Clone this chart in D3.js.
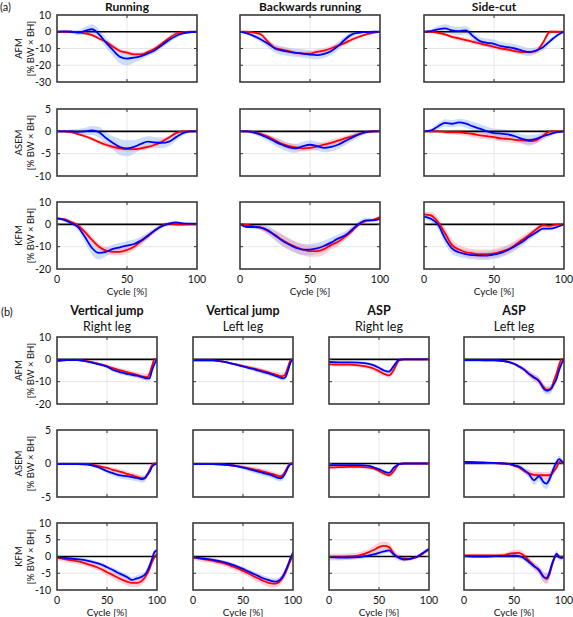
<!DOCTYPE html>
<html><head><meta charset="utf-8">
<script src="https://cdn.jsdelivr.net/npm/d3@7"></script>
<style>body{margin:0;background:#fff}svg{display:block}text{font-family:Lato,"Open Sans",sans-serif;fill:#111}</style>
</head><body><svg id="c" width="573" height="617"></svg>
<script>
// ---------- sample positions (cycle %) ----------
const xA=[0,5,10,15,20,25,30,35,40,45,50,55,60,65,70,75,80,85,90,95,100];
const xB=[0,10,20,30,40,45,50,55,60,65,70,75,80,82.5,85,87.5,90,92.5,95,97.5,100];
const xTicks=[0,50,100];
// ---------- y ticks ----------
const ticksAFM_a=[10,0,-10,-20,-30], ticksASEM_a=[5,0,-5,-10], ticksKFM_a=[10,0,-10,-20];
const ticksAFM_b=[10,0,-10,-20], ticksASEM_b=[5,0,-5], ticksKFM_b=[10,5,0,-5,-10];
// ---------- titles ----------
const titlesA=["Running","Backwards running","Side-cut"];
const titlesB=[["Vertical jump","Right leg"],["Vertical jump","Left leg"],["ASP","Right leg"],["ASP","Left leg"]];
const rowLabels=["AFM","ASEM","KFM"];

// ---------- (a) Running ----------
const runAFM_red=[0,0,0,-0.3,-1,-2,-4,-6,-9,-11.5,-12.5,-13.5,-13.5,-12,-10,-7,-3.8,-1.2,-0.2,0,0];
const runAFM_redSd=[0.3,0.3,0.4,0.5,0.7,0.8,1,1,1.2,1.2,1.2,1.2,1.2,1.2,1.2,1.2,1.2,1,0.6,0.3,0.2];
const runAFM_blue=[0,0.2,0,-0.5,0.5,1.5,-1.5,-6.5,-11,-15,-16,-15.5,-14.5,-13,-11,-8,-5,-2.5,-1,-0.3,0];
const runAFM_blueSd=[0.3,0.5,1,1.5,2.5,3,3,3,3.5,4,4,3,2,1.5,1.5,1.5,1.5,1.2,0.8,0.5,0.3];
const runASEM_red=[0,0,-0.2,-0.6,-1.1,-1.7,-2.4,-3,-3.5,-3.8,-4,-4,-3.8,-3.5,-3,-2.3,-1.4,-0.4,0,0,0];
const runASEM_redSd=[0.1,0.1,0.2,0.3,0.4,0.4,0.5,0.5,0.5,0.5,0.5,0.5,0.5,0.5,0.5,0.5,0.4,0.3,0.2,0.1,0.1];
const runASEM_blue=[0,0,0,-0.1,0,0.2,-0.2,-1.5,-2.6,-3.5,-3.8,-3.5,-2.8,-2.3,-2.5,-2.6,-2.3,-1.3,-0.4,0,0];
const runASEM_blueSd=[0.1,0.2,0.4,0.6,0.8,1,1.2,1.3,1.5,1.8,1.8,1.5,1.3,1.2,1.2,1.2,1,0.8,0.5,0.3,0.1];
const runKFM_red=[2.5,2.3,1,-0.5,-3.5,-7,-10,-11.8,-12.3,-12.3,-11.5,-10,-7.6,-5.3,-2.7,-0.5,0.3,0,-0.1,0,0];
const runKFM_redSd=[0.5,0.6,0.8,1,1.5,1.5,1.5,1.5,1.5,1.5,1.5,1.5,1.5,1.2,1,0.8,0.6,0.5,0.4,0.3,0.3];
const runKFM_blue=[2.8,2,0.6,-1.2,-5.7,-10.6,-12.8,-12.3,-11,-10.3,-9.5,-8.8,-7.3,-5,-2.7,-0.8,0.3,0.9,0.4,0.3,0.3];
const runKFM_blueSd=[0.5,0.7,1,1.5,2.5,3,3,2,2,2,2,2,1.8,1.5,1.2,1,0.8,0.6,0.5,0.4,0.3];
// ---------- (a) Backwards running ----------
const brAFM_red=[0,0,-0.5,-1.6,-6,-9.6,-10.6,-11.6,-12.6,-13,-13,-12,-11.2,-10,-8.2,-6.6,-4.6,-3,-1.6,-0.6,0];
const brAFM_redSd=[0.2,0.4,0.8,1.2,1.5,1.5,1.5,1.5,1.5,1.5,1.5,1.5,1.5,1.5,1.5,1.5,1.2,1,0.7,0.4,0.2];
const brAFM_blue=[0,-1,-2.6,-4.6,-7.2,-10,-11.2,-12,-12.6,-13,-13.6,-14,-13.2,-11.6,-8.6,-4.6,-1.6,-0.6,-0.2,0,0];
const brAFM_blueSd=[0.3,0.8,1.2,1.8,2.2,2.5,2.5,2.5,2.5,2.5,2.5,2.5,2.5,2.5,2.5,2,1.5,1,0.6,0.4,0.3];
const brASEM_red=[0,0,-0.2,-0.6,-1.2,-2,-2.8,-3.3,-3.6,-3.8,-3.7,-3.4,-3,-2.6,-2.1,-1.6,-1.1,-0.6,-0.2,0,0];
const brASEM_redSd=[0.1,0.2,0.3,0.4,0.5,0.6,0.7,0.7,0.7,0.7,0.7,0.7,0.7,0.7,0.6,0.6,0.5,0.4,0.3,0.2,0.1];
const brASEM_blue=[0,0,-0.3,-0.8,-1.5,-2.3,-3,-3.6,-3.8,-3.3,-3,-3.3,-3.7,-3.5,-3,-2.2,-1.4,-0.7,-0.2,0,0];
const brASEM_blueSd=[0.1,0.2,0.4,0.6,0.8,0.9,1,1,1,1,1,1,1,1,1,0.9,0.8,0.6,0.4,0.2,0.1];
const brKFM_red=[0,-0.3,-0.9,-1.5,-3,-4.7,-6.9,-8.7,-10.2,-11.3,-12,-12,-11.1,-9.3,-7.8,-5.6,-3,0,1.5,2,3.3];
const brKFM_redSd=[0.3,0.5,0.8,1,1.5,2,2.5,2.5,2.5,2.5,2.5,2.5,2.5,2,2,1.5,1.2,1,0.8,0.6,0.5];
const brKFM_blue=[0,-1.2,-1.2,-1.5,-2.7,-5,-7.2,-9,-10.5,-11.3,-11.3,-10.8,-9.7,-8.2,-6.4,-5,-2.4,0.3,1.8,1.8,2.5];
const brKFM_blueSd=[0.4,0.6,0.8,1.2,1.8,2.2,2.5,2.5,2.5,2.5,2.5,2.5,2.5,2.2,2,1.8,1.5,1.2,1,0.8,0.6];
// ---------- (a) Side-cut ----------
const scAFM_red=[0,0,-0.6,-1.6,-3,-4,-5,-6,-7,-8,-9,-10,-10.6,-11.6,-12.2,-12.2,-11.6,-6.6,0,0,0];
const scAFM_redSd=[0.3,0.5,0.8,1,1.2,1.3,1.3,1.3,1.3,1.3,1.3,1.3,1.3,1.3,1.3,1.3,1.3,1.5,1,0.5,0.3];
const scAFM_blue=[0,0.4,1.4,2,0.8,0.4,0.8,-2.6,-5.6,-6.6,-7.2,-8.6,-9.2,-10,-11.2,-12.2,-11.2,-9.2,-5.6,-2.2,0];
const scAFM_blueSd=[0.3,1,2,2.5,2.5,2.5,2.5,2.5,2.5,2.5,2.5,2.5,2.5,2.5,2.5,2.5,2,2,1.5,1,0.5];
const scASEM_red=[0,0,0,-0.15,-0.2,-0.2,-0.4,-0.6,-0.9,-1.1,-1.3,-1.6,-1.7,-1.9,-2,-2.2,-2,-1,0,0,0];
const scASEM_redSd=[0.1,0.2,0.3,0.4,0.5,0.6,0.6,0.7,0.7,0.7,0.7,0.7,0.7,0.7,0.7,0.7,0.7,0.6,0.3,0.1,0.1];
const scASEM_blue=[0,0.2,1.1,1.9,1.7,2,1.7,1.1,0.6,0,-0.4,-0.5,-0.7,-1.1,-1.7,-2,-1.7,-1.1,-0.6,-0.2,0];
const scASEM_blueSd=[0.1,0.4,0.7,0.8,0.8,0.8,0.9,1,1,1,1,1,1,1,1,1.2,1,0.8,0.5,0.3,0.1];
const scKFM_red=[4.5,4,1,-4,-9.3,-11.3,-12.5,-13,-13.3,-13.3,-13,-12.2,-11.2,-9.3,-7,-4.8,-2.3,-0.4,-0.7,-0.1,0];
const scKFM_redSd=[1,1.5,2,2.5,2.5,2,2,2,2,2,2,2,2,2,1.8,1.5,1.2,1,0.8,0.5,0.3];
const scKFM_blue=[3.5,2.5,-0.1,-6.3,-10.8,-12.5,-13.3,-13.8,-14,-14,-13.5,-12.8,-11.5,-9.8,-7.9,-5.6,-3.7,-1.9,-1.9,-1.2,0];
const scKFM_blueSd=[1,1.5,2,2.5,2.5,2,2,2,2,2,2,2,2,2,1.8,1.5,1.2,1,0.8,0.5,0.3];

// ---------- (b) Vertical jump, right leg ----------
const vjrAFM_red=[-0.7,-0.3,-0.3,-0.8,-1.8,-2.4,-3,-3.8,-4.5,-5.1,-5.7,-6.3,-7,-7.3,-7.6,-7.8,-8,-6.5,-3,0,0];
const vjrAFM_redSd=[0.3,0.3,0.3,0.4,0.5,0.6,0.7,0.8,0.9,1,1,1.1,1.2,1.3,1.4,1.5,1.5,1.5,1.2,0.5,0.3];
const vjrAFM_blue=[-0.7,-0.3,-0.3,-1,-2,-2.6,-3.3,-4.5,-5.3,-6,-6.5,-7,-7.3,-7.6,-8,-8.3,-8.5,-8.5,-5,-2,0];
const vjrAFM_blueSd=[0.3,0.3,0.3,0.4,0.5,0.6,0.7,0.8,0.9,1,1,1,1,1,1,1,1,1,1,0.8,0.5];
const vjrASEM_red=[-0.1,-0.1,-0.1,-0.1,-0.3,-0.5,-0.65,-0.9,-1.1,-1.3,-1.55,-1.75,-2,-2.1,-2.2,-2.15,-1.75,-1,-0.25,0,0];
const vjrASEM_redSd=[0.1,0.1,0.1,0.1,0.15,0.2,0.25,0.3,0.35,0.4,0.4,0.4,0.4,0.4,0.4,0.4,0.4,0.4,0.3,0.2,0.1];
const vjrASEM_blue=[-0.1,-0.1,-0.1,-0.15,-0.5,-0.8,-1.15,-1.4,-1.65,-1.8,-1.9,-2.05,-2.15,-2.25,-2.35,-2.25,-1.75,-1.25,-0.5,-0.15,0];
const vjrASEM_blueSd=[0.1,0.1,0.1,0.1,0.15,0.2,0.3,0.4,0.45,0.5,0.5,0.5,0.5,0.5,0.5,0.5,0.5,0.4,0.3,0.2,0.1];
const vjrKFM_red=[-0.4,-0.9,-1.4,-2.2,-3.2,-3.9,-4.7,-5.4,-6.2,-6.9,-7.5,-7.9,-7.9,-7.7,-7.2,-6.4,-5.2,-3.7,-1.7,-0.2,0.8];
const vjrKFM_redSd=[0.8,0.8,0.8,0.8,0.9,0.9,1,1,1.1,1.1,1.2,1.2,1.2,1.2,1.2,1.2,1.2,1.1,1,0.8,0.6];
const vjrKFM_blue=[-0.2,-0.5,-0.8,-1.2,-2,-2.5,-3.2,-3.9,-4.7,-5.4,-6.1,-7,-6.5,-6.3,-6,-5.5,-4.5,-2.8,-0.7,1.3,1.8];
const vjrKFM_blueSd=[0.5,0.5,0.5,0.5,0.6,0.6,0.7,0.7,0.8,0.8,0.9,0.9,0.9,0.9,0.9,0.9,0.9,0.9,0.9,0.8,0.6];
// ---------- (b) Vertical jump, left leg ----------
const vjlAFM_red=[-0.5,-0.4,-0.5,-1,-2,-2.5,-3,-3.5,-4,-4.6,-5.2,-5.8,-6.5,-6.8,-7.2,-7.5,-7.5,-6.5,-3.5,-0.5,0];
const vjlAFM_redSd=[0.3,0.3,0.3,0.4,0.5,0.6,0.7,0.8,0.9,1,1,1.1,1.2,1.3,1.4,1.5,1.5,1.5,1.2,0.5,0.3];
const vjlAFM_blue=[-0.5,-0.4,-0.5,-1,-2,-2.6,-3.2,-3.8,-4.3,-5,-5.6,-6.2,-7,-7.4,-7.8,-8.2,-8.5,-8,-5,-1.5,0];
const vjlAFM_blueSd=[0.3,0.3,0.3,0.4,0.5,0.6,0.7,0.8,0.9,1,1,1,1,1,1,1,1,1,1,0.8,0.5];
const vjlASEM_red=[-0.1,-0.1,-0.1,-0.15,-0.3,-0.4,-0.55,-0.7,-0.85,-1,-1.2,-1.4,-1.6,-1.75,-1.85,-1.9,-1.7,-1.1,-0.4,0,0];
const vjlASEM_redSd=[0.1,0.1,0.1,0.1,0.15,0.2,0.25,0.3,0.35,0.4,0.4,0.4,0.4,0.4,0.4,0.4,0.4,0.4,0.3,0.2,0.1];
const vjlASEM_blue=[-0.1,-0.1,-0.1,-0.15,-0.3,-0.45,-0.6,-0.8,-1,-1.2,-1.4,-1.6,-1.85,-2,-2.15,-2.2,-2,-1.4,-0.6,-0.1,0];
const vjlASEM_blueSd=[0.1,0.1,0.1,0.1,0.15,0.2,0.3,0.35,0.4,0.4,0.45,0.45,0.45,0.45,0.45,0.45,0.45,0.4,0.3,0.2,0.1];
const vjlKFM_red=[-0.3,-0.8,-1.3,-2,-3,-3.6,-4.3,-5,-5.8,-6.5,-7.2,-7.8,-8.1,-8.1,-7.8,-7.2,-6.2,-4.8,-3,-1.2,0.2];
const vjlKFM_redSd=[0.8,0.8,0.8,0.8,0.9,0.9,1,1,1.1,1.1,1.2,1.2,1.2,1.2,1.2,1.2,1.2,1.1,1,0.8,0.6];
const vjlKFM_blue=[-0.2,-0.6,-1,-1.6,-2.5,-3.1,-3.7,-4.4,-5.1,-5.8,-6.5,-7,-7.4,-7.5,-7.3,-6.8,-5.8,-4.3,-2.5,-0.5,1.2];
const vjlKFM_blueSd=[0.5,0.5,0.5,0.5,0.6,0.6,0.7,0.7,0.8,0.8,0.9,0.9,0.9,0.9,0.9,0.9,0.9,0.9,0.9,0.8,0.6];
// ---------- (b) ASP, right leg ----------
const asrAFM_red=[-2.3,-2.4,-2.4,-2.7,-3.5,-4.2,-5.3,-6.5,-7.2,-4.5,-0.5,0,0,0,0,0,0,0,0,0,0];
const asrAFM_redSd=[0.8,0.8,0.8,0.8,0.9,1,1,1,1,1.5,1,0.3,0.1,0.1,0.1,0.1,0.1,0.1,0.1,0.1,0.1];
const asrAFM_blue=[-1.2,-1.4,-1.4,-1.5,-2,-2.7,-3.8,-5,-5.5,-2.8,-0.2,0,0,0,0,0,0,0,0,0,0];
const asrAFM_blueSd=[0.5,0.5,0.5,0.5,0.6,0.7,0.8,0.8,0.8,0.8,0.5,0.2,0.1,0.1,0.1,0.1,0.1,0.1,0.1,0.1,0.1];
const asrASEM_red=[-0.6,-0.55,-0.5,-0.5,-0.6,-0.75,-1.1,-1.5,-1.75,-1.1,-0.1,0,0,0,0,0,0,0,0,0,0];
const asrASEM_redSd=[0.2,0.2,0.2,0.2,0.2,0.25,0.3,0.3,0.3,0.35,0.2,0.1,0.05,0.05,0.05,0.05,0.05,0.05,0.05,0.05,0.05];
const asrASEM_blue=[-0.25,-0.25,-0.25,-0.25,-0.35,-0.6,-0.85,-1.2,-1.4,-0.6,-0.1,0,0,0,0,0,0,0,0,0,0];
const asrASEM_blueSd=[0.15,0.15,0.15,0.15,0.15,0.2,0.25,0.25,0.25,0.25,0.15,0.05,0.05,0.05,0.05,0.05,0.05,0.05,0.05,0.05,0.05];
const asrKFM_red=[-0.2,-0.2,0,0.3,1.3,2,2.8,3.2,2.8,0.8,-0.3,-0.6,-0.7,-0.6,-0.4,-0.2,0.2,0.6,1.1,1.6,2.1];
const asrKFM_redSd=[1,1,1,1,1,1.2,1.3,1.3,1.3,1.2,1,0.8,0.6,0.5,0.5,0.5,0.5,0.5,0.5,0.5,0.5];
const asrKFM_blue=[-0.2,-0.3,-0.3,-0.2,0.3,0.6,1.1,1.5,1.8,0.6,-0.4,-0.9,-0.8,-0.55,-0.3,-0.2,0.3,0.8,1.3,1.8,2.3];
const asrKFM_blueSd=[0.6,0.6,0.6,0.6,0.6,0.6,0.7,0.7,0.7,0.7,0.6,0.5,0.5,0.5,0.5,0.5,0.5,0.5,0.6,0.6,0.6];
// ---------- (b) ASP, left leg ----------
const aslAFM_red=[-0.5,-0.5,-0.5,-0.5,-0.8,-1.2,-2,-3.2,-4.5,-6.5,-8.3,-9.5,-12.6,-13.6,-13.5,-12.6,-9.5,-6.5,-2.7,0,0];
const aslAFM_redSd=[0.3,0.3,0.3,0.3,0.4,0.5,0.6,0.8,1,1.2,1.5,1.5,1.5,1.5,1.5,1.5,1.5,1.5,1.2,0.8,0.4];
const aslAFM_blue=[-0.3,-0.3,-0.4,-0.4,-0.8,-1.2,-2,-3.2,-4.6,-6.5,-8,-9.8,-13.3,-14,-13.8,-13,-11,-8.8,-5,-2,0];
const aslAFM_blueSd=[0.3,0.3,0.3,0.3,0.4,0.5,0.6,0.8,1,1.3,1.6,1.8,1.8,1.8,1.8,1.8,1.6,1.5,1.3,1,0.5];
const aslASEM_red=[0.15,0.15,0.1,0.05,0,-0.1,-0.35,-0.6,-1.1,-1.45,-1.7,-1.75,-1.75,-1.75,-1.75,-1.6,-1.1,-0.6,0.15,0.3,0];
const aslASEM_redSd=[0.1,0.1,0.1,0.1,0.1,0.15,0.2,0.3,0.4,0.5,0.5,0.5,0.5,0.5,0.5,0.5,0.5,0.4,0.3,0.2,0.1];
const aslASEM_blue=[0.25,0.2,0.15,0.1,0,-0.05,-0.25,-0.45,-0.95,-1.6,-2.5,-1.9,-2.85,-3,-2.5,-1.6,-0.6,0.15,0.65,0.4,0];
const aslASEM_blueSd=[0.1,0.1,0.1,0.1,0.1,0.15,0.2,0.3,0.4,0.6,0.7,0.7,0.8,0.8,0.8,0.8,0.6,0.5,0.5,0.4,0.2];
const aslKFM_red=[0.3,0.3,0.3,0.3,0.4,0.8,1,1.1,0.3,-1.2,-2.7,-4.2,-6.2,-6.7,-5.7,-3.2,-0.7,0.5,0.1,-0.4,0];
const aslKFM_redSd=[0.5,0.5,0.5,0.5,0.6,0.8,1,1,1,1,1,1.2,1.5,1.5,1.5,1.3,1,0.8,0.8,0.6,0.4];
const aslKFM_blue=[0.1,0,0,0.1,0.2,0.2,0.3,0.1,-0.5,-1.7,-2.9,-4,-6.2,-6.4,-5.2,-2.7,-0.7,0.8,-0.2,-0.4,0];
const aslKFM_blueSd=[0.4,0.4,0.4,0.4,0.5,0.6,0.7,0.8,0.8,0.9,1,1.2,1.5,1.5,1.5,1.3,1,1,1,0.8,0.4];

// ---------- panel tables built from the arrays ----------
const panelsA=[
 [[runAFM_red,runAFM_redSd,runAFM_blue,runAFM_blueSd],[brAFM_red,brAFM_redSd,brAFM_blue,brAFM_blueSd],[scAFM_red,scAFM_redSd,scAFM_blue,scAFM_blueSd]],
 [[runASEM_red,runASEM_redSd,runASEM_blue,runASEM_blueSd],[brASEM_red,brASEM_redSd,brASEM_blue,brASEM_blueSd],[scASEM_red,scASEM_redSd,scASEM_blue,scASEM_blueSd]],
 [[runKFM_red,runKFM_redSd,runKFM_blue,runKFM_blueSd],[brKFM_red,brKFM_redSd,brKFM_blue,brKFM_blueSd],[scKFM_red,scKFM_redSd,scKFM_blue,scKFM_blueSd]]
];
const panelsB=[
 [[vjrAFM_red,vjrAFM_redSd,vjrAFM_blue,vjrAFM_blueSd],[vjlAFM_red,vjlAFM_redSd,vjlAFM_blue,vjlAFM_blueSd],[asrAFM_red,asrAFM_redSd,asrAFM_blue,asrAFM_blueSd],[aslAFM_red,aslAFM_redSd,aslAFM_blue,aslAFM_blueSd]],
 [[vjrASEM_red,vjrASEM_redSd,vjrASEM_blue,vjrASEM_blueSd],[vjlASEM_red,vjlASEM_redSd,vjlASEM_blue,vjlASEM_blueSd],[asrASEM_red,asrASEM_redSd,asrASEM_blue,asrASEM_blueSd],[aslASEM_red,aslASEM_redSd,aslASEM_blue,aslASEM_blueSd]],
 [[vjrKFM_red,vjrKFM_redSd,vjrKFM_blue,vjrKFM_blueSd],[vjlKFM_red,vjlKFM_redSd,vjlKFM_blue,vjlKFM_blueSd],[asrKFM_red,asrKFM_redSd,asrKFM_blue,asrKFM_blueSd],[aslKFM_red,aslKFM_redSd,aslKFM_blue,aslKFM_blueSd]]
];
const ticksA=[ticksAFM_a,ticksASEM_a,ticksKFM_a];
const ticksB=[ticksAFM_b,ticksASEM_b,ticksKFM_b];

// ---------- drawing ----------
const svg=d3.select("#c");
let clipId=0;
function panel(left,top,w,h,xs,data,ticks,showY,showX,label){
  const g=svg.append("g").attr("transform",`translate(${left},${top})`);
  const x=d3.scaleLinear().domain([0,100]).range([0,w]);
  const y=d3.scaleLinear().domain([ticks[ticks.length-1],ticks[0]]).range([h,0]);
  const id="cp"+(clipId++);
  g.append("clipPath").attr("id",id).append("rect").attr("width",w).attr("height",h);
  const inner=g.append("g").attr("clip-path",`url(#${id})`);
  inner.selectAll(".gy").data(ticks.slice(1,-1)).join("line").attr("x1",0).attr("x2",w)
    .attr("y1",d=>y(d)).attr("y2",d=>y(d)).attr("stroke","#e4e4e4").attr("stroke-width",0.9);
  inner.selectAll(".gx").data(xTicks.slice(1,-1)).join("line").attr("y1",0).attr("y2",h)
    .attr("x1",d=>x(d)).attr("x2",d=>x(d)).attr("stroke","#e4e4e4").attr("stroke-width",0.9);
  const [r,rs,b,bs]=data;
  const area=(m,s)=>d3.area().x((d,i)=>x(xs[i])).y0((d,i)=>y(m[i]-s[i])).y1((d,i)=>y(m[i]+s[i])).curve(d3.curveMonotoneX)(m);
  const line=m=>d3.line().x((d,i)=>x(xs[i])).y(d=>y(d)).curve(d3.curveMonotoneX)(m);
  inner.append("path").attr("d",area(b,bs)).attr("fill","rgb(160,195,245)").attr("fill-opacity",0.55);
  inner.append("path").attr("d",area(r,rs)).attr("fill","rgb(245,150,175)").attr("fill-opacity",0.45);
  inner.append("line").attr("x1",0).attr("x2",w).attr("y1",y(0)).attr("y2",y(0)).attr("stroke","#000").attr("stroke-width",1.6);
  inner.append("path").attr("d",line(r)).attr("fill","none").attr("stroke","#ff0000").attr("stroke-width",1.8);
  inner.append("path").attr("d",line(b)).attr("fill","none").attr("stroke","#0000ff").attr("stroke-width",1.8);
  const tk=g.append("g").attr("stroke","#333").attr("stroke-width",1);
  ticks.slice(1,-1).forEach(t=>{
    tk.append("line").attr("x1",0).attr("x2",3).attr("y1",y(t)).attr("y2",y(t));
    tk.append("line").attr("x1",w-3).attr("x2",w).attr("y1",y(t)).attr("y2",y(t));
  });
  xTicks.slice(1,-1).forEach(t=>{
    tk.append("line").attr("x1",x(t)).attr("x2",x(t)).attr("y1",0).attr("y2",3);
    tk.append("line").attr("x1",x(t)).attr("x2",x(t)).attr("y1",h-3).attr("y2",h);
  });
  g.append("rect").attr("width",w).attr("height",h).attr("fill","none").attr("stroke","#3a3a3a").attr("stroke-width",1.6);
  if(showY){
    g.selectAll(".yl").data(ticks).join("text").attr("x",-6).attr("y",d=>y(d)).attr("dy","0.35em")
      .attr("text-anchor","end").attr("font-size",10.5).text(d=>d);
    g.append("text").attr("transform",`translate(${-38},${h/2}) rotate(-90)`).attr("text-anchor","middle")
      .attr("dy","0.35em").attr("font-size",9.5).text(label);
    g.append("text").attr("transform",`translate(${-26},${h/2}) rotate(-90)`).attr("text-anchor","middle")
      .attr("dy","0.35em").attr("font-size",9.5).text("[% BW × BH]");
  }
  if(showX){
    g.selectAll(".xl").data(xTicks).join("text").attr("x",d=>x(d)).attr("y",h+14)
      .attr("text-anchor","middle").attr("font-size",10.5).text(d=>d);
    g.append("text").attr("x",w/2).attr("y",h+25.5).attr("text-anchor","middle").attr("font-size",10).text("Cycle [%]");
  }
}

// (a)
const leftA=[57,240,424], topA=[15,109,202], wA=140, hA=67;
svg.append("text").attr("x",0).attr("y",11).attr("font-size",11).text("(a)");
titlesA.forEach((t,c)=>svg.append("text").attr("x",leftA[c]+wA/2).attr("y",10.5).attr("text-anchor","middle")
  .attr("font-size",12).attr("font-weight",700).text(t));
panelsA.forEach((row,ri)=>row.forEach((d,ci)=>panel(leftA[ci],topA[ri],wA,hA,xA,d,ticksA[ri],ci===0,ri===2,rowLabels[ri])));

// (b)
const leftB=[57,193,329,464], topB=[337,430,523], wB=100, hB=67;
svg.append("text").attr("x",1).attr("y",316).attr("font-size",11).text("(b)");
titlesB.forEach((t,c)=>{
  svg.append("text").attr("x",leftB[c]+wB/2).attr("y",315).attr("text-anchor","middle")
    .attr("font-size",12.5).attr("font-weight",700).text(t[0]);
  svg.append("text").attr("x",leftB[c]+wB/2).attr("y",331).attr("text-anchor","middle")
    .attr("font-size",12.5).text(t[1]);
});
panelsB.forEach((row,ri)=>row.forEach((d,ci)=>panel(leftB[ci],topB[ri],wB,hB,xB,d,ticksB[ri],ci===0,ri===2,rowLabels[ri])));
</script></body></html>
